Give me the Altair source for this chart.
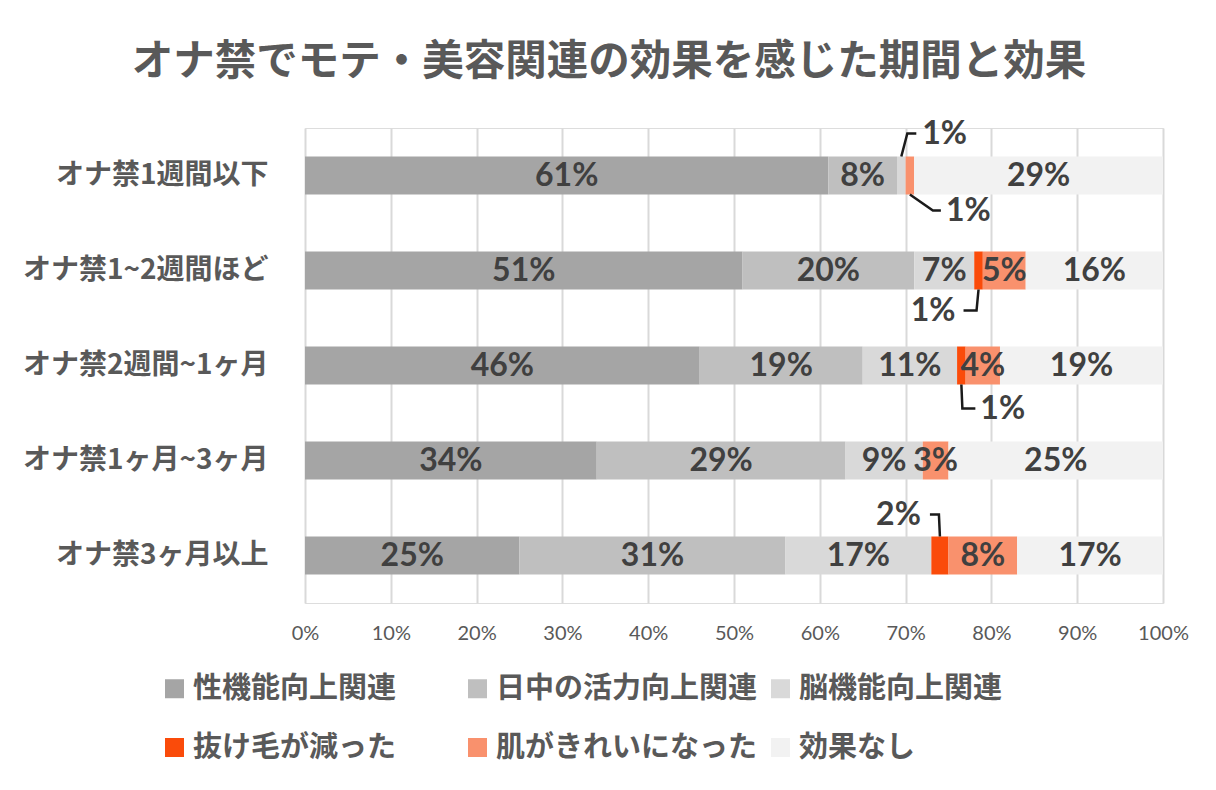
import altair as alt
import pandas as pd

# ---------------- data ----------------
categories = ["オナ禁1週間以下", "オナ禁1~2週間ほど", "オナ禁2週間~1ヶ月",
              "オナ禁1ヶ月~3ヶ月", "オナ禁3ヶ月以上"]
series = ["性機能向上関連", "日中の活力向上関連", "脳機能向上関連",
          "抜け毛が減った", "肌がきれいになった", "効果なし"]
colors = ["#A5A5A5", "#BFBFBF", "#D9D9D9", "#FA4B0A", "#F9916D", "#F2F2F2"]

sex_function = [61, 51, 46, 34, 25]
daytime_energy = [8, 20, 19, 29, 31]
brain_function = [1, 7, 11, 9, 17]
less_hair_loss = [0, 1, 1, 0, 2]
better_skin = [1, 5, 4, 3, 8]
no_effect = [29, 16, 19, 25, 17]

x_ticks = [0, 10, 20, 30, 40, 50, 60, 70, 80, 90, 100]

# small segments labelled outside with leader lines: (row, series index)
callout_row = [0, 0, 1, 2, 4]
callout_series = [2, 4, 3, 3, 3]

# ---------------- style / layout ----------------
W, H = 858, 475
BAR_HALF = 19
leader_dx1 = [6, 23, -2, 1, -1]
leader_dy1 = [-23, 16, 21, 24, -22]
leader_dx2 = [9, 8, -13, 13, -9]
label_gap = [6, 5, -8, 5, -9]

TXT = "#404040"
AX = "#595959"
JP = "Noto Sans CJK JP"
NUM = "Lato"

values = [sex_function, daytime_energy, brain_function,
          less_hair_loss, better_skin, no_effect]

rows = []
for i, cat in enumerate(categories):
    start = 0
    for j, s in enumerate(series):
        v = values[j][i]
        rows.append(dict(cat=cat, row=i, series=s, order=j, start=start,
                         end=start + v, mid=start + v / 2, value=v,
                         label=f"{v}%"))
        start += v
df = pd.DataFrame(rows)
inside = df[df["value"] >= 3]

px_x = 100 / W
px_y = 5 / H

line_rows, text_rows = [], []
for k, (r, s) in enumerate(zip(callout_row, callout_series)):
    seg = df[(df["row"] == r) & (df["order"] == s)].iloc[0]
    sign = 1 if leader_dy1[k] > 0 else -1
    y0 = r + sign * BAR_HALF * px_y
    x0 = seg["mid"]
    x1 = x0 + leader_dx1[k] * px_x
    y1 = y0 + leader_dy1[k] * px_y
    x2 = x1 + leader_dx2[k] * px_x
    for p, (xx, yy) in enumerate([(x0, y0), (x1, y1), (x2, y1)]):
        line_rows.append(dict(id=k, pt=p, x=xx, y=yy))
    text_rows.append(dict(id=k, x=x2 + label_gap[k] * px_x, y=y1,
                          label=seg["label"],
                          side="left" if label_gap[k] > 0 else "right"))
lines_df = pd.DataFrame(line_rows)
texts_df = pd.DataFrame(text_rows)

x_scale = alt.Scale(domain=[0, 100], nice=False, zero=False)
y_band = alt.Scale(domain=categories, paddingInner=0.6, paddingOuter=0.3)
y_lin = alt.Scale(domain=[-0.5, 4.5], reverse=True, nice=False, zero=False)

bars = alt.Chart(df).mark_bar(strokeWidth=0).encode(
    y=alt.Y("cat:N", scale=y_band, sort=categories, title=None,
            axis=alt.Axis(labelFont=JP, labelFontSize=28, labelFontWeight="bold",
                          labelColor=AX, labelPadding=37, ticks=False,
                          domain=False, grid=False, labelLimit=400)),
    x=alt.X("start:Q", scale=x_scale, title=None,
            axis=alt.Axis(values=x_ticks, labelExpr="datum.value + '%'",
                          labelFont=NUM, labelFontSize=20, labelColor=AX,
                          labelPadding=20, ticks=False, domain=False,
                          labelFlush=False,
                          grid=True, gridColor="#D9D9D9", gridWidth=2)),
    x2="end:Q",
    color=alt.Color("series:N", scale=alt.Scale(domain=series, range=colors),
                    legend=alt.Legend(orient="none", legendX=-145, legendY=546,
                                      direction="horizontal",
                                      columns=3, gridAlign="all",
                                      columnPadding=8, rowPadding=29,
                                      symbolType="square", symbolSize=361,
                                      symbolStrokeWidth=0, labelOffset=4,
                                      labelFont=JP, labelFontSize=29,
                                      labelFontWeight="bold", labelColor=AX,
                                      labelLimit=400, title=None)),
)

inside_labels = alt.Chart(inside).mark_text(
    font=NUM, fontSize=32, fontWeight="bold", color=TXT, baseline="middle"
).encode(
    y=alt.Y("cat:N", scale=y_band, sort=categories, axis=None),
    x=alt.X("mid:Q", scale=x_scale),
    text="label:N",
)

leaders = alt.Chart(lines_df).mark_line(color="#1A1A1A", strokeWidth=2.5).encode(
    x=alt.X("x:Q", scale=x_scale),
    y=alt.Y("y:Q", scale=y_lin, axis=None),
    detail="id:N",
    order="pt:Q",
)

callout_left = alt.Chart(texts_df[texts_df["side"] == "left"]).mark_text(
    font=NUM, fontSize=32, fontWeight="bold", color=TXT, align="left",
    baseline="middle"
).encode(
    x=alt.X("x:Q", scale=x_scale),
    y=alt.Y("y:Q", scale=y_lin, axis=None),
    text="label:N",
)

callout_right = alt.Chart(texts_df[texts_df["side"] == "right"]).mark_text(
    font=NUM, fontSize=32, fontWeight="bold", color=TXT, align="right",
    baseline="middle"
).encode(
    x=alt.X("x:Q", scale=x_scale),
    y=alt.Y("y:Q", scale=y_lin, axis=None),
    text="label:N",
)

chart = alt.layer(bars, inside_labels, leaders, callout_left, callout_right).resolve_scale(
    y="independent"
).properties(
    width=W, height=H,
    title=alt.TitleParams(
        text="オナ禁でモテ・美容関連の効果を感じた期間と効果",
        font=JP, fontSize=41.5, fontWeight="bold", color=AX,
        anchor="middle", dx=-125, offset=34),
    autosize=alt.AutoSizeParams(type="none"),
    padding={"left": 297, "top": 120, "right": 45, "bottom": 179},
).configure_view(stroke=None).configure(background="white")

chart.save("out.html", embed_options={"renderer": "svg", "actions": False})
